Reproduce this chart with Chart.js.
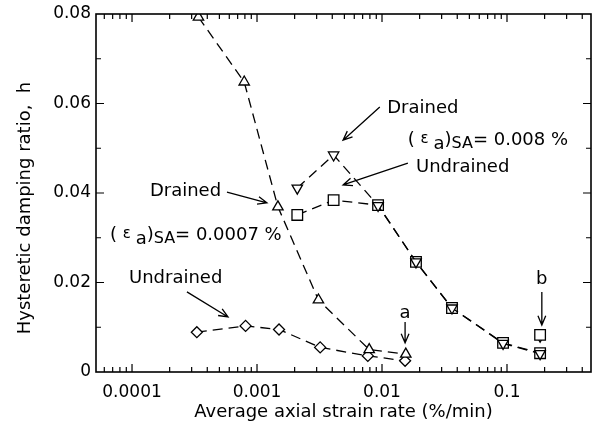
<!DOCTYPE html>
<html lang="en">
<head>
  <meta charset="UTF-8">
  <title>Hysteretic damping ratio vs strain rate</title>
  <script src="https://cdn.jsdelivr.net/npm/chart.js"></script>
  <style>
    html, body { margin: 0; padding: 0; background: #fff; overflow: hidden; }
    #wrap { width: 593px; height: 425px; }
  </style>
</head>
<body>
  <div id="wrap"><canvas id="dampingChart"></canvas></div>

  <script>
    // values
    const rateLow = [0.00034, 0.00079, 0.00147, 0.0031, 0.0079, 0.0155];
    const drainedLow = [0.0793, 0.0648, 0.0369, 0.0161, 0.0050, 0.0040];
    const rateLowU = [0.00033, 0.00081, 0.0015, 0.0032, 0.0077, 0.0153];
    const undrainedLow = [0.0089, 0.0103, 0.0095, 0.0055, 0.0036, 0.0025];
    const rateHigh = [0.0021, 0.0041, 0.0093, 0.0187, 0.0363, 0.093, 0.184];
    const drainedHigh = [0.0411, 0.0485, 0.0372, 0.0246, 0.0143, 0.0064, 0.0041];
    const undrainedHigh = [0.0351, 0.0384, 0.0373, 0.0246, 0.0143, 0.0065, 0.0042];
    const rateB = [0.184];
    const drainedB = [0.0078];
    const undrainedB = [0.0083];

    const xTickValues = [0.0001, 0.001, 0.01, 0.1];
    const xTickLabels = ['0.0001', '0.001', '0.01', '0.1'];
    const yTickLabels = ['0', '0.02', '0.04', '0.06', '0.08'];

    const FONT = "'DejaVu Sans', 'Liberation Sans', Arial, sans-serif";

    function pts(xs, ys) {
      return xs.map((x, i) => ({ x: x, y: ys[i] }));
    }

    function series(xs, ys, style, radius, rotation, line) {
      return {
        data: pts(xs, ys),
        showLine: line,
        borderColor: '#000',
        borderWidth: 1.3,
        borderDash: [10, 6],
        backgroundColor: '#fff',
        pointStyle: style,
        pointRotation: rotation,
        pointRadius: radius,
        pointBorderWidth: 1.3,
        pointBackgroundColor: '#fff',
        pointBorderColor: '#000'
      };
    }

    // frame, inward ticks, y title and the annotations
    const decorPlugin = {
      id: 'decor',
      afterDatasetsDraw(chart) {
        const ctx = chart.ctx;
        const a = chart.chartArea;
        const xs = chart.scales.x;
        const ys = chart.scales.y;
        ctx.save();
        ctx.strokeStyle = '#000';
        ctx.lineWidth = 1.6;
        ctx.strokeRect(a.left, a.top, a.right - a.left, a.bottom - a.top);

        ctx.lineWidth = 1.2;
        ctx.beginPath();
        // y ticks every 0.01
        for (let v = 0.01; v < 0.08; v += 0.01) {
          const py = ys.getPixelForValue(v);
          const len = Math.round(v * 100) % 2 === 0 ? 8 : 5;
          ctx.moveTo(a.left, py); ctx.lineTo(a.left + len, py);
          ctx.moveTo(a.right, py); ctx.lineTo(a.right - len, py);
        }
        // x ticks, log decades
        for (let d = -5; d <= 0; d++) {
          for (let m = 1; m <= 9; m++) {
            const v = m * Math.pow(10, d);
            if (v < xs.min || v > xs.max) continue;
            const px = xs.getPixelForValue(v);
            const len = m === 1 ? 8 : 5;
            ctx.moveTo(px, a.bottom); ctx.lineTo(px, a.bottom - len);
            ctx.moveTo(px, a.top); ctx.lineTo(px, a.top + len);
          }
        }
        ctx.stroke();

        // y axis title
        ctx.fillStyle = '#000';
        ctx.font = '18px ' + FONT;
        ctx.save();
        ctx.translate(25, 208);
        ctx.rotate(-Math.PI / 2);
        ctx.textAlign = 'center';
        ctx.textBaseline = 'middle';
        ctx.fillText('Hysteretic damping ratio,  h', 0, 0);
        ctx.restore();

        const X = v => xs.getPixelForValue(v);
        const Y = v => ys.getPixelForValue(v);

        function arrow(x1, y1, x2, y2) {
          const p1 = [X(x1), Y(y1)], p2 = [X(x2), Y(y2)];
          const ang = Math.atan2(p2[1] - p1[1], p2[0] - p1[0]);
          ctx.lineWidth = 1.3;
          ctx.beginPath();
          ctx.moveTo(p1[0], p1[1]);
          ctx.lineTo(p2[0], p2[1]);
          ctx.moveTo(p2[0] - 10 * Math.cos(ang - 0.4), p2[1] - 10 * Math.sin(ang - 0.4));
          ctx.lineTo(p2[0], p2[1]);
          ctx.lineTo(p2[0] - 10 * Math.cos(ang + 0.4), p2[1] - 10 * Math.sin(ang + 0.4));
          ctx.stroke();
        }
        function label(text, x, y, align) {
          ctx.font = '18px ' + FONT;
          ctx.textAlign = align || 'left';
          ctx.textBaseline = 'middle';
          ctx.fillText(text, X(x), Y(y));
        }
        // (eps a)SA = ... with lowered parts
        function epsLabel(value, x, y) {
          let px = X(x);
          const py = Y(y);
          ctx.textAlign = 'left';
          ctx.textBaseline = 'middle';
          const parts = [
            ['( ', 18, 0], ['\u03b5 ', 15, -1], ['a', 18, 4], [')', 18, 0],
            ['SA', 16, 4], ['= ' + value + ' %', 18, 0]
          ];
          parts.forEach(p => {
            ctx.font = p[1] + 'px ' + FONT;
            ctx.fillText(p[0], px, py + p[2]);
            px += ctx.measureText(p[0]).width;
          });
        }

        label('Drained', 0.011, 0.059);
        arrow(0.0096, 0.0592, 0.00488, 0.0518);
        epsLabel('0.008', 0.0161, 0.0518);
        label('Undrained', 0.0187, 0.0458);
        arrow(0.0161, 0.0467, 0.00488, 0.0418);

        label('Drained', 0.000139, 0.0404);
        arrow(0.000575, 0.0402, 0.0012, 0.0378);
        epsLabel('0.0007', 0.0000667, 0.0306);
        label('Undrained', 0.0000946, 0.0210);
        arrow(0.000275, 0.0179, 0.000586, 0.0123);

        label('a', 0.0153, 0.0132, 'center');
        arrow(0.0153, 0.0112, 0.0153, 0.0065);
        label('b', 0.19, 0.0206, 'center');
        arrow(0.19, 0.0179, 0.19, 0.0105);
        ctx.restore();
      }
    };

    const ctx = document.getElementById('dampingChart').getContext('2d');
    new Chart(ctx, {
      type: 'scatter',
      data: {
        datasets: [
          series(rateLow, drainedLow, 'triangle', 6, 0, true),
          series(rateLowU, undrainedLow, 'rectRot', 5.5, 0, true),
          series(rateHigh, drainedHigh, 'triangle', 6, 180, true),
          series(rateHigh, undrainedHigh, 'rect', 7.5, 0, true),
          series(rateB, undrainedB, 'rect', 7.5, 0, false),
          series(rateB, drainedB, 'triangle', 5, 180, false)
        ]
      },
      options: {
        responsive: true,
        maintainAspectRatio: false,
        animation: false,
        layout: { autoPadding: false, padding: { top: 14, right: 2, left: 0, bottom: 0 } },
        plugins: {
          legend: { display: false },
          tooltip: { enabled: false }
        },
        scales: {
          x: {
            type: 'logarithmic',
            min: 0.0000515,
            max: 0.47,
            grid: { display: false, drawTicks: false },
            border: { display: false },
            afterBuildTicks(scale) {
              scale.ticks = xTickValues.map(v => ({ value: v }));
            },
            afterFit(scale) {
              scale.height = 53;
              scale.paddingLeft = 0;
              scale.paddingRight = 0;
            },
            ticks: {
              autoSkip: false,
              maxRotation: 0,
              padding: 10,
              color: '#000',
              font: { size: 17, family: FONT },
              callback: (v) => {
                const i = xTickValues.findIndex(t => Math.abs(t - v) / t < 1e-6);
                return i >= 0 ? xTickLabels[i] : '';
              }
            },
            title: {
              display: true,
              text: 'Average axial strain rate (%/min)',
              color: '#000',
              font: { size: 18, family: FONT },
              padding: { top: 0, bottom: 2 }
            }
          },
          y: {
            min: 0,
            max: 0.08,
            grid: { display: false, drawTicks: false },
            border: { display: false },
            afterFit(scale) {
              scale.width = 96;
              scale.paddingTop = 0;
              scale.paddingBottom = 0;
            },
            ticks: {
              stepSize: 0.02,
              padding: 5,
              color: '#000',
              font: { size: 17, family: FONT },
              callback: (v) => yTickLabels[Math.round(v / 0.02)]
            }
          }
        }
      },
      plugins: [decorPlugin]
    });
  </script>
</body>
</html>
